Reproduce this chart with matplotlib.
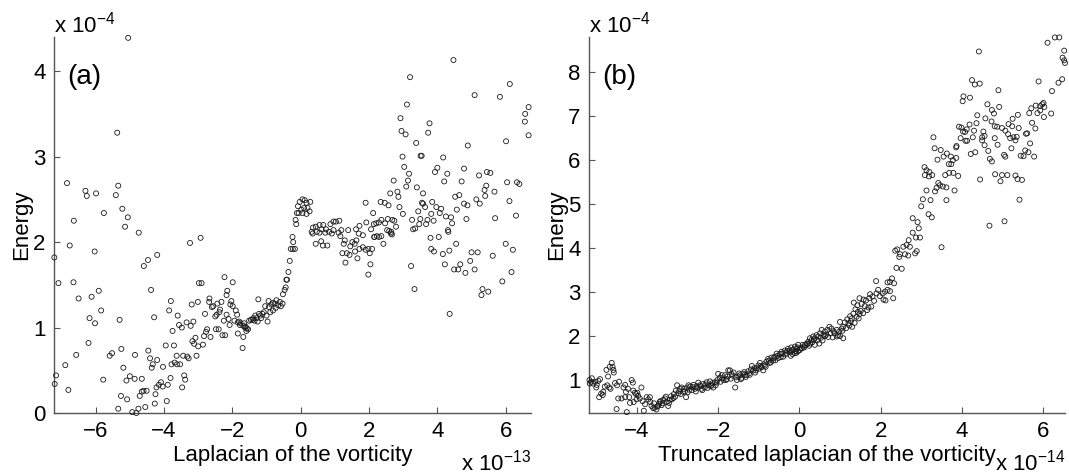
import matplotlib
matplotlib.use("Agg")
import matplotlib.pyplot as plt

plt.rcParams["font.family"] = ["Liberation Sans", "DejaVu Sans"]
plt.rcParams["mathtext.default"] = "regular"

# panel (a): laplacian of the vorticity (x 1e-13) vs energy (x 1e-4)
a_lap = [
    -5.05, -5.37, -6.84, -6.30, -6.26, -5.99, -5.34, -5.41, -5.76, -6.64,
    -5.22, -5.06, -5.14, -4.74, -2.93, -3.24, -6.76, -6.03, -7.21, -4.20,
    -4.47, -4.59, -7.09, -6.65, -5.91, -6.12, -6.50, -4.38, -5.84, -6.18,
    -6.02, -5.30, -4.29, -6.21, -6.57, -5.59, -5.52, -5.25, -4.85, -6.89,
    -5.19, -7.16, -7.20, -6.80, -5.78, -5.00, -5.10, -4.86, -4.65, -5.26,
    -5.08, -5.34, -4.93, -4.81, -4.75, -4.71, -4.65, -4.60, -4.51, -4.55,
    -4.25, -4.27, -4.46, -4.41, -4.33, -4.36, -4.20, -4.03, -3.95, -4.22,
    -4.15, -4.09, -4.04, -3.89, -3.92, -3.81, -3.85, -3.80, -3.75, -3.71,
    -3.78, -3.69, -3.63, -3.60, -3.56, -3.48, -3.62, -3.53, -3.44, -3.34,
    -3.28, -3.32, -3.22, -3.19, -3.14, -3.41, -3.38, -3.47, -3.17, -3.12,
    -3.08, -3.05, -3.01, -2.98, -2.90, -3.00, -2.86, -2.83, -2.77, -2.74,
    -2.80, -2.68, -2.64, -2.67, -2.60, -2.56, -2.50, -2.48, -2.46, -2.40,
    -2.44, -2.36, -2.38, -2.32, -2.29, -2.21, -2.23, -2.25, -2.17, -2.15,
    -2.17, -2.11, -2.08, -2.06, -2.03, -1.99, -1.99, -1.94, -1.90, -1.86,
    -1.84, -1.84, -1.80, -1.78, -1.76, -1.70, -1.68, -1.68, -1.66, -1.63,
    -1.61, -1.58, -1.54, -1.59, -1.51, -1.46, -1.41, -1.39, -1.35, -1.33,
    -1.29, -1.26, -1.24, -1.22, -1.18, -1.16, -1.12, -1.08, -1.04, -1.00,
    -0.97, -0.94, -0.93, -0.89, -0.81, -0.73, -0.71, -0.76, -0.81, -0.86,
    -0.66, -0.61, -0.58, -0.53, -0.52, -0.47, -0.44, -0.42, -0.40, -0.36,
    -0.32, -0.29, -0.23, -0.24, -0.22, -0.17, 0.35, 0.44, 0.60, 0.65,
    0.78, 0.55, 0.72, 0.91, 1.11, 1.16, 1.22, 1.31, 1.35, 1.43,
    1.26, 1.29, 1.45, 1.51, 1.58, 1.63, 1.66, 1.59, 1.72, 1.82,
    1.90, 1.98, 2.09, 2.02, 2.04, 1.98, 1.70, 1.82, 2.16, 2.23,
    2.29, 2.36, 2.42, 2.64, 2.67, 3.23, 3.33, 3.80, 4.04, 3.82,
    3.90, 4.16, 4.22, 4.35, 4.32, 4.55, 4.49, 4.61, 4.67, 4.82,
    4.36, 4.96, 5.00, 5.09, 5.18, 5.29, 5.32, 5.49, 5.62, 5.90,
    6.00, 6.17, 6.21, 4.47, 3.20, 6.12, 5.09, 5.83, 3.11, 6.67,
    6.57, 6.56, 6.67, 2.92, 3.77, 2.95, 3.07, 3.73, 3.38, 4.89,
    6.01, 3.51, 3.54, 2.98, 4.17, 3.03, 4.00, 3.93, 4.78, 3.17,
    4.29, 5.45, 5.55, 5.22, 3.14, 2.72, 4.20, 4.71, 6.04, 6.33,
    6.40, 3.09, 3.40, 5.43, 5.38, 2.83, 2.62, 3.58, 5.67, 2.86,
    4.52, 4.64, 5.40, 5.14, 5.24, 6.11, 3.85, 1.90, 2.34, 2.46,
    2.57, 3.55, 3.58, 4.78, 4.88, 2.89, 3.64, 3.97, 4.11, 4.07,
    3.44, 4.57, 2.12, 2.99, 2.55, 2.68, 2.74, 2.79, 2.36, 2.29,
    2.21, 2.14, 2.47, 2.06, 1.92, 1.72, 1.62, 1.39, 1.19, 1.03,
    0.96, 1.13, 0.87, 0.96, 0.83, 0.74, 0.66, 0.55, 0.44, 0.36,
    0.32, 0.47, 0.61, 0.05, 0.12, -0.03, 0.17, 0.28, -0.08, 0.02,
    0.10, 0.20, 0.26, 0.05, -0.06, -0.11, -0.15, -0.13, 0.17, 4.31,
    4.43, 4.40, 4.25, 3.89, 3.71, 3.67, 3.50, 3.26, 3.47, 3.29,
    3.35, 3.82, 4.85, 5.69, 6.30, 2.15, 2.53, 2.59, 2.65,
]
a_energy = [
    4.39, 3.28, 2.69, 2.60, 2.54, 2.57, 2.66, 2.55, 2.34, 2.25,
    2.39, 2.29, 2.18, 2.11, 2.05, 1.99, 1.96, 1.89, 1.82, 1.85,
    1.79, 1.72, 1.52, 1.53, 1.43, 1.36, 1.34, 1.44, 1.20, 1.11,
    1.05, 1.09, 1.12, 0.82, 0.68, 0.67, 0.70, 0.75, 0.68, 0.56,
    0.53, 0.44, 0.34, 0.27, 0.39, 0.43, 0.38, 0.40, 0.40, 0.20,
    0.16, 0.05, 0.01, 0.00, 0.05, 0.20, 0.25, 0.26, 0.26, 0.07,
    0.22, 0.11, 0.73, 0.64, 0.57, 0.53, 0.62, 0.54, 0.79, 0.30,
    0.33, 0.36, 0.31, 0.33, 0.14, 0.41, 1.20, 1.31, 0.96, 0.79,
    0.57, 0.59, 0.67, 1.14, 1.03, 1.00, 0.57, 0.57, 0.67, 1.06,
    0.64, 0.66, 1.02, 1.27, 1.07, 0.44, 0.39, 0.30, 0.84, 0.81,
    0.88, 0.67, 1.30, 1.52, 1.52, 0.78, 0.80, 0.90, 0.95, 0.98,
    1.16, 1.30, 0.89, 1.34, 1.24, 1.25, 1.13, 0.98, 1.15, 0.98,
    1.28, 1.21, 1.18, 1.30, 0.91, 0.91, 1.59, 1.08, 1.15, 1.43,
    1.38, 1.10, 1.03, 1.27, 1.31, 1.53, 1.25, 1.08, 1.20, 1.15,
    1.06, 0.93, 1.07, 1.03, 1.05, 0.76, 0.89, 1.02, 1.05, 1.00,
    1.01, 0.99, 0.98, 0.96, 1.08, 1.09, 1.09, 1.11, 1.08, 1.14,
    1.11, 1.07, 1.33, 1.16, 1.14, 1.11, 1.16, 1.18, 1.25, 1.14,
    1.07, 1.31, 1.24, 1.18, 1.20, 1.23, 1.32, 1.28, 1.29, 1.27,
    1.26, 1.30, 1.25, 1.28, 1.39, 1.44, 1.47, 1.56, 1.56, 1.65,
    1.78, 1.92, 1.92, 2.06, 2.00, 1.92, 2.10, 1.98, 2.01, 1.96,
    1.96, 2.11, 2.11, 2.10, 2.11, 2.07, 1.87, 1.76, 1.87, 1.85,
    1.98, 2.02, 1.95, 2.00, 1.98, 2.02, 1.81, 1.89, 1.92, 1.94,
    1.91, 1.92, 1.92, 1.87, 1.74, 1.62, 2.10, 2.08, 2.06, 2.07,
    2.06, 2.07, 1.98, 2.10, 2.09, 1.72, 1.45, 2.05, 2.06, 1.92,
    1.89, 1.86, 1.74, 1.90, 2.12, 1.98, 1.68, 1.68, 1.74, 1.64,
    1.16, 1.78, 1.88, 1.68, 1.88, 1.38, 1.45, 1.42, 1.84, 1.54,
    1.98, 1.65, 1.91, 4.13, 3.93, 3.85, 3.72, 3.70, 3.61, 3.58,
    3.50, 3.41, 3.25, 3.45, 3.39, 3.30, 3.26, 3.28, 3.16, 3.13,
    3.18, 3.01, 3.01, 3.00, 2.99, 2.88, 2.87, 2.82, 2.86, 2.80,
    2.80, 2.82, 2.81, 2.78, 2.72, 2.72, 2.71, 2.71, 2.70, 2.70,
    2.68, 2.65, 2.64, 2.66, 2.61, 2.59, 2.57, 2.57, 2.59, 2.53,
    2.53, 2.55, 2.54, 2.50, 2.45, 2.48, 2.47, 2.46, 2.47, 2.46,
    2.43, 2.46, 2.45, 2.45, 2.43, 2.41, 2.41, 2.41, 2.39, 2.34,
    2.36, 2.38, 2.34, 2.33, 2.27, 2.26, 2.25, 2.18, 2.26, 2.23,
    2.22, 2.21, 2.22, 2.15, 2.23, 2.19, 2.15, 2.14, 2.14, 2.24,
    2.24, 2.25, 2.21, 2.14, 2.12, 2.15, 2.20, 2.20, 2.18, 2.17,
    2.12, 2.12, 2.15, 2.50, 2.49, 2.47, 2.46, 2.47, 2.42, 2.38,
    2.40, 2.40, 2.36, 2.34, 2.34, 2.34, 2.26, 2.21, 2.33, 2.14,
    2.22, 2.29, 2.30, 2.25, 2.26, 2.21, 2.27, 2.26, 2.21, 2.15,
    2.16, 2.33, 2.27, 2.28, 2.31, 2.06, 2.14, 2.13, 2.12,
]

# panel (b): truncated laplacian (x 1e-14) vs energy (x 1e-4)
b_lap = [
    6.29, 6.40, 6.11, 6.52, 6.48, 6.52, 6.54, 4.42, 4.25, 4.32,
    4.44, 4.90, 5.89, 6.38, 6.47, 6.22, 4.04, 4.02, 4.20, 4.63,
    4.92, 4.74, 4.79, 4.38, 4.58, 4.73, 4.36, 3.93, 3.99, 4.19,
    4.12, 4.08, 4.03, 4.30, 4.53, 4.56, 4.50, 4.27, 4.50, 3.97,
    4.09, 4.13, 3.30, 3.33, 3.48, 3.40, 3.55, 3.63, 3.73, 3.78,
    3.68, 3.74, 3.86, 3.87, 3.86, 4.81, 4.87, 4.99, 5.15, 5.24,
    5.25, 5.38, 5.40, 5.07, 5.14, 5.19, 5.27, 5.32, 5.35, 5.22,
    5.04, 5.07, 4.88, 4.81, 4.56, 4.65, 4.69, 4.74, 4.22, 4.33,
    5.45, 5.52, 5.56, 5.64, 5.78, 5.68, 5.73, 5.81, 5.58, 5.61,
    5.66, 5.71, 5.82, 5.86, 5.93, 5.98, 6.01, 6.03, 5.93, 6.02,
    6.20, 4.82, 4.99, 5.12, 4.95, 5.32, 5.37, 5.48, 4.45, 5.42,
    5.05, 4.68, 3.08, 3.13, 3.20, 3.09, 3.19, 3.27, 3.59, 3.69,
    3.79, 3.91, 3.42, 3.46, 3.53, 3.62, 3.82, 3.38, 3.34, 3.13,
    3.04, 3.23, 3.62, 3.00, 3.18, 3.26, 2.79, 2.91, 2.94, 2.79,
    2.87, 2.97, 2.69, 2.64, 2.72, 2.56, 2.41, 2.36, 2.48, 2.60,
    2.68, 2.85, 2.89, 2.46, 3.50, 2.39, 2.52, 2.23, 2.17, 2.28,
    2.33, 1.89, 2.23, 2.17, 2.11, 2.05, 1.98, 1.94, 1.90, 1.74,
    1.72, 1.80, 2.07, 2.12, 2.31, 1.64, 1.58, 1.48, 1.34, 1.43,
    1.53, 1.61, 1.67, 1.77, 1.38, 1.44, 1.33, 1.48, 1.41, 1.25,
    1.29, 1.18, 1.21, 1.30, 1.12, 1.08, 1.00, 1.04, 0.98, 1.08,
    1.00, 0.92, 0.84, 0.79, 0.74, 0.69, 0.82, 0.77, 0.63, 0.59,
    0.55, 0.51, 0.47, 0.42, 0.38, 0.49, 0.34, 0.30, 0.26, 0.22,
    0.18, 0.14, 0.10, 0.06, 0.01, -0.03, -0.07, -0.11, -0.17, -0.21,
    0.26, 0.38, 0.63, 0.92,
    -5.17, -5.13, -5.11, -5.08, -5.16, -5.03, -4.99, -4.95, -4.91, -5.00,
    -4.88, -4.93, -4.83, -4.79, -4.73, -4.68, -4.65, -4.84, -4.75, -4.71,
    -4.67, -4.62, -4.60, -4.58, -4.57, -4.54, -4.49, -4.44, -4.46, -4.38,
    -4.50, -4.33, -4.29, -4.27, -4.25, -4.29, -4.22, -4.19, -4.17, -4.13,
    -4.10, -4.09, -4.05, -4.02, -3.99, -3.97, -4.08, -4.01, -3.93, -3.89,
    -3.86, -3.83, -3.80, -3.76, -3.72, -3.68, -3.67, -3.64, -3.60, -3.56,
    -3.52, -3.48, -3.45, -3.42, -3.39, -3.35, -3.31, -3.27, -3.23, -3.19,
    -3.14, -3.10, -3.09, -3.04, -3.01, -2.98, -2.94, -2.90, -2.86, -2.82,
    -2.79, -2.77, -2.73, -2.69, -2.65, -2.61, -2.57, -2.53, -2.49, -2.45,
    -2.41, -2.37, -2.33, -2.28, -2.24, -2.20, -2.16, -2.12, -2.08, -2.04,
    -2.00, -1.96, -1.91, -1.87, -1.83, -1.79, -1.75, -1.71, -1.67, -1.62,
    -1.58, -1.54, -1.50, -1.46, -1.42, -1.38, -1.34, -1.30, -1.26, -1.22,
    -1.17, -1.13, -1.09, -1.05, -1.01, -0.97, -0.93, -0.89, -0.85, -0.81,
    -0.77, -0.73, -0.69, -0.65, -0.61, -0.56, -0.52, -0.48, -0.44, -0.40,
    -0.36, -0.32, -0.28, -0.24, -0.20, -0.15, -0.11, -0.07, -0.03,
    -3.58, -3.50, -3.44, -3.37, -3.29, -3.21, -3.16, -3.06, -2.96, -2.92,
    -2.84, -2.75, -2.71, -2.63, -2.55, -2.51, -2.43, -2.39, -2.31, -2.26,
    -2.18, -2.14, -2.06, -2.02, -1.94, -1.89, -1.81, -1.77, -1.69, -1.65,
    -1.56, -1.48, -1.44, -1.36, -1.32, -1.24, -1.19, -1.11, -1.07, -0.99,
    -0.95, -0.87, -0.83, -0.75, -0.71, -0.63, -0.59, -0.54, -0.46, -0.42,
    -0.34, -0.30, -0.22, -0.18, -0.09, -0.05, 0.03, 0.08, 0.12, 0.20,
    0.24, 0.32, 0.36, 0.44, 0.53, 0.57, 0.66, 0.71, 0.87, 0.95,
    1.06, 1.15, 1.23, 1.27, 1.36, 1.46, 1.51, 1.57, 1.70, 1.84,
]
b_energy = [
    8.79, 8.79, 8.67, 8.49, 8.33, 8.27, 8.21, 8.47, 7.82, 7.72,
    7.74, 7.59, 7.79, 7.76, 7.84, 7.57, 7.45, 7.34, 7.42, 7.27,
    7.21, 7.14, 7.06, 7.02, 6.95, 6.88, 6.84, 6.76, 6.74, 6.81,
    6.70, 6.64, 6.65, 6.67, 6.65, 6.55, 6.52, 6.52, 6.45, 6.50,
    6.44, 6.44, 6.52, 6.27, 6.23, 6.01, 6.08, 6.15, 6.08, 6.00,
    5.91, 5.91, 6.29, 6.32, 6.05, 6.77, 6.76, 6.73, 6.82, 6.77,
    6.94, 7.03, 6.73, 6.67, 6.59, 6.50, 6.52, 6.45, 6.53, 6.27,
    6.12, 6.08, 6.35, 6.50, 6.34, 6.21, 6.03, 5.97, 6.14, 6.18,
    6.10, 6.09, 6.22, 6.18, 6.08, 6.38, 6.85, 6.72, 6.60, 6.61,
    7.07, 7.18, 7.24, 7.07, 7.13, 7.27, 7.30, 7.21, 7.23, 6.98,
    7.06, 5.68, 5.66, 5.66, 5.52, 5.65, 5.57, 5.55, 5.56, 5.10,
    4.61, 4.51, 5.84, 5.77, 5.73, 5.66, 5.63, 5.66, 5.66, 5.71,
    5.71, 5.64, 5.48, 5.43, 5.40, 5.38, 5.31, 5.37, 5.29, 5.31,
    5.11, 5.09, 5.09, 4.95, 4.77, 4.70, 4.68, 4.59, 4.45, 4.35,
    4.24, 4.24, 4.18, 4.07, 4.03, 4.03, 3.97, 3.94, 3.86, 3.86,
    3.83, 3.88, 3.93, 3.80, 4.02, 3.55, 3.53, 3.23, 3.22, 3.31,
    3.20, 3.25, 3.02, 3.05, 3.01, 2.97, 2.91, 3.05, 2.97, 2.95,
    2.86, 2.90, 2.83, 2.81, 2.86, 2.81, 2.83, 2.86, 2.76, 2.70,
    2.73, 2.68, 2.59, 2.67, 2.61, 2.55, 2.51, 2.50, 2.44, 2.45,
    2.40, 2.38, 2.29, 2.21, 2.31, 2.21, 2.32, 2.17, 2.10, 1.95,
    2.00, 2.14, 2.11, 2.17, 2.21, 2.14, 1.97, 2.06, 2.10, 2.02,
    2.14, 2.06, 1.99, 2.02, 1.95, 1.83, 1.99, 1.91, 1.83, 1.87,
    1.83, 1.80, 1.76, 1.72, 1.68, 1.66, 1.62, 1.61, 1.59, 1.55,
    1.95, 1.80, 2.00, 1.99,
    1.00, 0.96, 1.04, 0.92, 0.92, 0.96, 0.89, 0.98, 1.02, 0.83,
    0.69, 0.61, 0.73, 0.85, 0.88, 0.83, 0.80, 0.66, 1.23, 1.08,
    1.30, 1.39, 1.30, 1.23, 1.17, 0.93, 0.88, 0.96, 0.58, 0.58,
    0.34, 0.83, 0.89, 0.73, 0.27, 0.61, 0.80, 0.61, 0.48, 1.00,
    0.94, 0.76, 0.71, 0.68, 0.71, 0.64, 0.50, 0.56, 0.58, 0.83,
    0.52, 0.30, 0.45, 0.61, 0.56, 0.61, 0.50, 0.41, 0.36, 0.37,
    0.33, 0.41, 0.46, 0.52, 0.43, 0.55, 0.58, 0.50, 0.41, 0.55,
    0.56, 0.59, 0.68, 0.76, 0.88, 0.70, 0.80, 0.83, 0.73, 0.74,
    0.61, 0.83, 0.88, 0.85, 0.77, 0.89, 0.80, 0.86, 0.94, 0.88,
    0.80, 0.91, 0.83, 0.95, 0.88, 0.97, 0.89, 0.83, 0.95, 0.94,
    1.14, 1.05, 1.11, 1.00, 1.11, 1.02, 1.22, 1.22, 1.14, 1.17,
    0.83, 1.00, 1.08, 1.11, 1.05, 1.14, 1.12, 1.11, 1.20, 1.12,
    1.32, 1.22, 1.17, 1.27, 1.33, 1.39, 1.29, 1.22, 1.33, 1.42,
    1.48, 1.39, 1.51, 1.44, 1.53, 1.60, 1.50, 1.59, 1.64, 1.53,
    1.67, 1.62, 1.71, 1.67, 1.74, 1.69, 1.76, 1.71, 1.80,
    0.47, 0.40, 0.50, 0.47, 0.62, 0.48, 0.63, 0.62, 0.75, 0.68,
    0.80, 0.72, 0.78, 0.84, 0.74, 0.82, 0.86, 0.77, 0.90, 0.82,
    0.86, 0.93, 0.88, 1.00, 0.96, 1.04, 1.00, 1.08, 1.03, 1.10,
    1.06, 1.15, 1.02, 1.18, 1.07, 1.15, 1.24, 1.27, 1.22, 1.26,
    1.32, 1.36, 1.30, 1.44, 1.40, 1.50, 1.45, 1.55, 1.52, 1.60,
    1.58, 1.66, 1.63, 1.68, 1.66, 1.74, 1.72, 1.80, 1.74, 1.82,
    1.78, 1.86, 1.92, 1.90, 1.96, 1.90, 2.03, 1.98, 2.06, 2.02,
    2.12, 2.18, 2.24, 2.34, 2.30, 2.40, 2.57, 2.52, 2.65, 2.80,
]

a_xticks = [-6, -4, -2, 0, 2, 4, 6]
a_yticks = [0, 1, 2, 3, 4]
b_xticks = [-4, -2, 0, 2, 4, 6]
b_yticks = [1, 2, 3, 4, 5, 6, 7, 8]

W, H = 1069, 474
fig = plt.figure(figsize=(W / 100, H / 100), dpi=100)
ax_a = fig.add_axes([54 / W, 61 / H, 477 / W, 376 / H])
ax_b = fig.add_axes([589 / W, 61 / H, 476 / W, 376 / H])

SPINE = "#555555"
MARK = dict(marker="o", s=13, facecolors="none", edgecolors="#1a1a1a",
            linewidths=0.6, clip_on=False, zorder=3)


def style(ax, xlim, ylim, xticks, yticks, xlabel, panel, xexp):
    ax.set_xlim(*xlim)
    ax.set_ylim(*ylim)
    ax.set_xticks(xticks)
    ax.set_yticks(yticks)
    ax.set_xticklabels([f"{t}".replace("-", "\u2212") for t in xticks])
    ax.set_yticklabels([f"{t}" for t in yticks])
    for side in ("top", "right"):
        ax.spines[side].set_visible(False)
    for side in ("left", "bottom"):
        ax.spines[side].set_color(SPINE)
        ax.spines[side].set_linewidth(1.0)
    ax.tick_params(direction="in", length=4, width=0.8, color=SPINE,
                   labelsize=16, pad=6)
    ax.set_xlabel(xlabel, fontsize=16)
    ax.xaxis.set_label_coords(0.5, -0.085)
    ax.set_ylabel("Energy", fontsize=16)
    ax.yaxis.set_label_coords(-0.045, 0.5)
    ax.text(0.0, 1.012, r"x 10$^{-4}$", transform=ax.transAxes,
            fontsize=16, ha="left", va="baseline")
    ax.text(1.0, -0.152, r"x 10$^{%d}$" % xexp, transform=ax.transAxes,
            fontsize=16, ha="right", va="baseline")
    ax.text(0.028, 0.894, panel, transform=ax.transAxes,
            fontsize=20, ha="left", va="center")


ax_a.scatter(a_lap, a_energy, **MARK)
style(ax_a, (-7.22, 6.74), (0, 4.40), a_xticks, a_yticks,
      "Laplacian of the vorticity", "(a)", -13)

ax_b.scatter(b_lap, b_energy, **MARK)
style(ax_b, (-5.18, 6.54), (0.25, 8.80), b_xticks, b_yticks,
      "Truncated laplacian of the vorticity", "(b)", -14)

fig.savefig("out.png", dpi=100, facecolor="white")
